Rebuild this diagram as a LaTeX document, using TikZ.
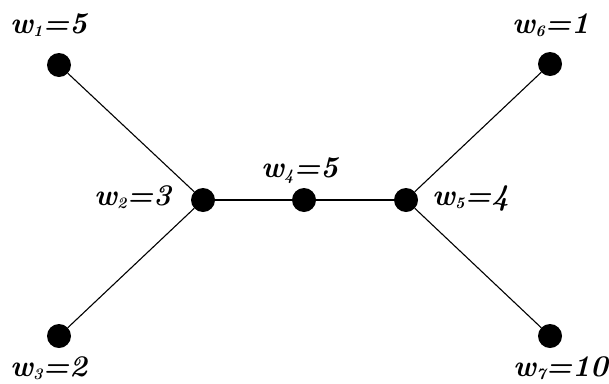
\documentclass[tikz,border=0pt]{standalone}
\begin{document}
\newcommand{\wsub}[1]{\raisebox{-0.28ex}{\fontsize{16}{16}\selectfont #1}}
\begin{tikzpicture}[x=1pt,y=-1pt,
  vert/.style={circle,fill=black,inner sep=0pt,minimum size=24pt},
  edge/.style={line width=1.1pt},
  wlab/.style={anchor=base west,inner sep=0pt,font=\fontsize{30}{32}\selectfont\bfseries\itshape}]
\useasboundingbox (0,0) rectangle (609,383);
\node[vert] (v1) at (59,65) {};
\node[vert] (v2) at (203,200) {};
\node[vert] (v3) at (59,336) {};
\node[vert] (v4) at (304,200) {};
\node[vert] (v5) at (406,200) {};
\node[vert] (v6) at (550,64) {};
\node[vert] (v7) at (550,336) {};
\draw[edge] (v1) -- (v2);
\draw[edge] (v3) -- (v2);
\draw[edge] (v2) -- (v4);
\draw[edge] (v4) -- (v5);
\draw[edge] (v5) -- (v6);
\draw[edge] (v5) -- (v7);
\node[wlab] (l1) at (10,33) {w\wsub{1}=5};
\node[wlab] (l2) at (94,205) {w\wsub{2}=3};
\node[wlab] (l3) at (10,376) {w\wsub{3}=2};
\node[wlab] (l4) at (261,177) {w\wsub{4}=5};
\node[wlab] (l5) at (432,205) {w\wsub{5}=4};
\node[wlab] (l6) at (512,33) {w\wsub{6}=1};
\node[wlab] (l7) at (513,376) {w\wsub{7}=10};
\end{tikzpicture}
\end{document}
